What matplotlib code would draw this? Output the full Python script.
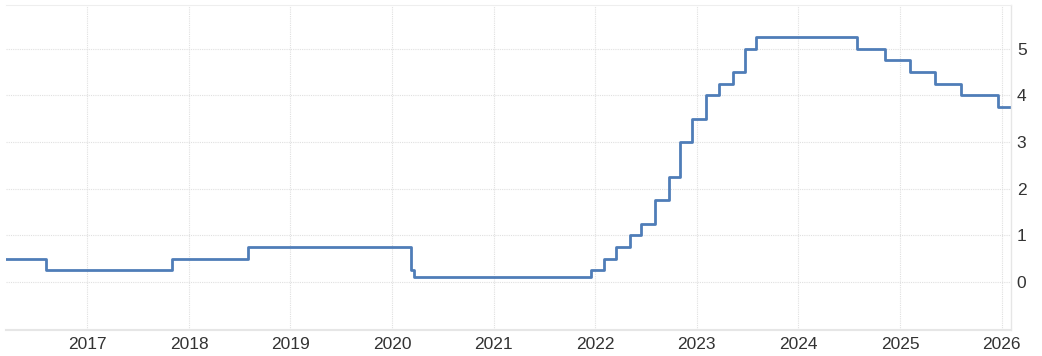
import matplotlib
matplotlib.use("Agg")
import matplotlib.pyplot as plt
import matplotlib.dates as mdates
from datetime import datetime

# Bank rate change dates and levels (%)
change_dates = [
    "2016-03-15", "2016-08-04", "2017-11-02", "2018-08-02", "2020-03-11",
    "2020-03-19", "2021-12-16", "2022-02-03", "2022-03-17", "2022-05-05",
    "2022-06-16", "2022-08-04", "2022-09-22", "2022-11-03", "2022-12-15",
    "2023-02-02", "2023-03-23", "2023-05-11", "2023-06-22", "2023-08-03",
    "2024-08-01", "2024-11-07", "2025-02-06", "2025-05-08", "2025-08-07",
    "2025-12-18", "2026-02-05",
]
rates = [
    0.50, 0.25, 0.50, 0.75, 0.25,
    0.10, 0.25, 0.50, 0.75, 1.00,
    1.25, 1.75, 2.25, 3.00, 3.50,
    4.00, 4.25, 4.50, 5.00, 5.25,
    5.00, 4.75, 4.50, 4.25, 4.00,
    3.75, 3.75,
]
year_ticks = list(range(2017, 2027))
y_ticks = [0, 1, 2, 3, 4, 5]

dates = [datetime.strptime(d, "%Y-%m-%d") for d in change_dates]

plt.rcParams["font.family"] = ["Liberation Sans", "DejaVu Sans"]

fig = plt.figure(figsize=(10.42, 3.56), dpi=100)
ax = fig.add_axes([0.006, 0.073, 0.9645, 0.913])

ax.step(dates, rates, where="post", color="#4f7db8", linewidth=2.0)

ax.set_xlim(dates[0], dates[-1])
ax.set_ylim(-1.03, 5.94)

ax.set_xticks([datetime(y, 1, 1) for y in year_ticks])
ax.xaxis.set_major_formatter(mdates.DateFormatter("%Y"))
ax.set_yticks(y_ticks)
ax.yaxis.tick_right()

ax.grid(True, color="#e0e0e0", linestyle=(0, (1, 1)), linewidth=0.8)
ax.tick_params(axis="both", length=0, labelsize=12.5, colors="#333333")
ax.tick_params(axis="y", pad=4)
ax.tick_params(axis="x", pad=5)

ax.spines["left"].set_visible(False)
ax.spines["top"].set_color("#eeeeee")
ax.spines["top"].set_linestyle((0, (1, 1)))
ax.spines["bottom"].set_color("#e6e6e6")
ax.spines["bottom"].set_linewidth(1.5)
ax.spines["right"].set_color("#e6e6e6")
ax.spines["right"].set_linewidth(1.0)

fig.savefig("out.png", dpi=100)
